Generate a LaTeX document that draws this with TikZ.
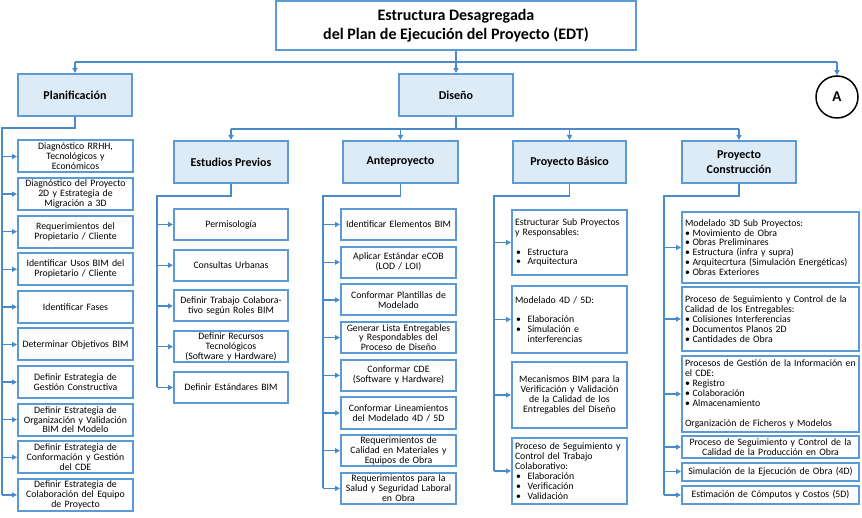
\documentclass[tikz,border=0pt]{standalone}
\usepackage{fontspec}
\setmainfont{Carlito}
\usepackage{xcolor}
\usepackage{tikz}
\usetikzlibrary{arrows.meta,calc}
\definecolor{edtblue}{RGB}{91,155,213}
\definecolor{edtfill}{RGB}{221,235,247}
\definecolor{edtline}{RGB}{74,138,203}
\newcommand{\bulA}{\makebox[12.5pt][l]{\hspace{1pt}\textbullet}}
\newcommand{\bulB}{\makebox[7.5pt][l]{\textbullet}}
\tikzset{
  >={Triangle[length=5pt,width=5pt]},
  every picture/.style={line join=miter},
  hdr/.style={draw=edtblue, line width=2pt, fill=edtfill, align=center,
    font=\fontsize{12}{15}\selectfont\bfseries,
    minimum width=114pt, minimum height=42pt, inner sep=2pt},
  leaf/.style={draw=edtblue, line width=2pt, fill=white, inner xsep=3pt,
    inner ysep=1pt, font=\fontsize{9.8}{9.9}\selectfont},
  link/.style={draw=edtline, line width=1.3pt},
  arr/.style={link, ->},
}

\begin{document}
\begin{tikzpicture}[x=1pt,y=-1pt]
    \useasboundingbox (0,0) rectangle (862,518);
    % nivel 0
    \node[draw=edtblue, line width=2pt, minimum width=360pt, minimum height=49pt,
      align=center, font=\fontsize{16}{19}\selectfont\bfseries] (title) at (456,25.5)
      {Estructura Desagregada\\del Plan de Ejecución del Proyecto (EDT)};
    % nivel 1
    \node[hdr] (plan) at (75,95) {Planificación};
    \node[hdr] (dis) at (456,95) {Diseño};
    \node[draw, circle, line width=1.5pt, minimum size=42pt,
      font=\fontsize{15}{17}\selectfont\bfseries] (acirc) at (837,97) {A};
    \coordinate (topbus) at (0,62);
    \draw[link] (title.south) -- (title.south |- topbus);
    \draw[link] (plan.north |- topbus) -- (acirc.north |- topbus);
    \foreach \n in {plan,dis,acirc}
      \draw[arr] (\n.north |- topbus) -- (\n.north);
    % nivel 2 (diseño)
    \node[hdr] (ep) at (231,162) {Estudios Previos};
    \node[hdr, minimum width=115pt] (ap) at (400.5,162) {Anteproyecto};
    \node[hdr, minimum width=113pt] (pb) at (569.5,162) {Proyecto Básico};
    \node[hdr] (pc) at (739,162) {Proyecto\\Construcción};
    \coordinate (dbus) at (0,129);
    \draw[link] (dis.south) -- (dis.south |- dbus);
    \draw[link] (ep.north |- dbus) -- (pc.north |- dbus);
    \foreach \n in {ep,ap,pb,pc}
      \draw[arr] (\n.north |- dbus) -- (\n.north);
    % planificación
    \foreach \i/\t in {1/{Diagnóstico RRHH,\\Tecnológicos y\\Económicos},
      2/{Diagnóstico del Proyecto\\2D y Estrategia de\\Migración a 3D},
      3/{Requerimientos del\\Propietario / Cliente},
      4/{Identificar Usos BIM del\\Propietario / Cliente},
      5/{Identificar Fases},
      6/{Determinar Objetivos BIM},
      7/{Definir Estrategia de\\Gestión Constructiva},
      8/{Definir Estrategia de\\Organización y Validación\\BIM del Modelo},
      9/{Definir Estrategia de\\Conformación y Gestión\\del CDE},
      10/{Definir Estrategia de\\Colaboración del Equipo\\de Proyecto}}
      \node[leaf, text width=109pt, minimum height=32pt, align=center] (pl\i)
        at (75.5,{156.5+37.6*(\i-1)}) {\t};
    \coordinate (plbus) at (2,128);
    \draw[link] (plan.south) |- (plbus) -- (plbus |- pl10.west);
    \foreach \i in {1,...,10}
      \draw[arr] (plbus |- pl\i.west) -- (pl\i.west);
    % estudios previos
    \foreach \i/\t in {1/{Permisología}, 2/{Consultas Urbanas},
      3/{Definir Trabajo Colabora-\\tivo según Roles BIM},
      4/{Definir Recursos\\Tecnológicos\\(Software y Hardware)},
      5/{Definir Estándares BIM}}
      \node[leaf, text width=108pt, minimum height=31pt, align=center] (ep\i)
        at (231,{224.5+40.75*(\i-1)}) {\t};
    \coordinate (epbus) at (157,196);
    \draw[link] (ep.south) |- (epbus) -- (epbus |- ep5.west);
    \foreach \i in {1,...,5}
      \draw[arr] (epbus |- ep\i.west) -- (ep\i.west);
    % anteproyecto
    \foreach \i/\t in {1/{Identificar Elementos BIM},
      2/{Aplicar Estándar eCOB\\(LOD / LOI)},
      3/{Conformar Plantillas de\\Modelado},
      4/{Generar Lista Entregables\\y Respondables del\\Proceso de Diseño},
      5/{Conformar CDE\\(Software y Hardware)},
      6/{Conformar Lineamientos\\del Modelado 4D / 5D},
      7/{Requerimientos de\\Calidad en Materiales y\\Equipos de Obra},
      8/{Requerimientos para la\\Salud y Seguridad Laboral\\en Obra}}
      \node[leaf, text width=109pt, minimum height=31pt, align=center] (ap\i)
        at (398.5,{224.5+37.7*(\i-1)}) {\t};
    \coordinate (apbus) at (323,196);
    \draw[link] (ap.south) |- (apbus) -- (apbus |- ap8.west);
    \foreach \i in {1,...,8}
      \draw[arr] (apbus |- ap\i.west) -- (ap\i.west);
    % proyecto básico
    \node[leaf, text width=109pt, minimum height=65pt, align=left] (pb1) at (569.5,242.5)
      {Estructurar Sub Proyectos\\y Responsables:\\[9.9pt]\bulA Estructura\\\bulA Arquitectura};
    \node[leaf, text width=109pt, minimum height=67pt, align=left] (pb2) at (569.5,319.5)
      {Modelado 4D / 5D:\\[9.9pt]\bulA Elaboración\\\bulA Simulación e\\\hspace*{12.5pt}interferencias};
    \node[leaf, text width=109pt, minimum height=66pt, align=center] (pb3) at (569.5,395)
      {Mecanismos BIM para la\\Verificación y Validación\\de la Calidad de los\\Entregables del Diseño};
    \node[leaf, text width=109pt, minimum height=66pt, align=left] (pb4) at (569.5,471)
      {Proceso de Seguimiento y\\Control del Trabajo\\Colaborativo:\\\bulA Elaboración\\\bulA Verificación\\\bulA Validación};
    \coordinate (pbbus) at (494,196);
    \draw[link] (pb.south) |- (pbbus) -- (pbbus |- pb4.west);
    \foreach \i in {1,...,4}
      \draw[arr] (pbbus |- pb\i.west) -- (pb\i.west);
    % proyecto construcción
    \node[leaf, text width=171pt, minimum height=71pt, align=left] (pc1) at (770.5,247.5)
      {Modelado 3D Sub Proyectos:\\\bulB Movimiento de Obra\\\bulB Obras Preliminares\\\bulB Estructura (infra y supra)\\\bulB Arquitecrtura (Simulación Energéticas)\\\bulB Obras Exteriores};
    \node[leaf, text width=171pt, minimum height=64pt, align=left] (pc2) at (770.5,319)
      {Proceso de Seguimiento y Control de la\\Calidad de los Entregables:\\\bulB Colisiones Interferencias\\\bulB Documentos Planos 2D\\\bulB Cantidades de Obra};
    \node[leaf, text width=171pt, minimum height=76pt, align=left] (pc3) at (770.5,394)
      {Procesos de Gestión de la Información en\\el CDE:\\\bulB Registro\\\bulB Colaboración\\\bulB Almacenamiento\\[9.9pt]Organización de Ficheros y Modelos};
    \node[leaf, text width=171pt, minimum height=22pt, align=center] (pc4) at (770.5,447)
      {Proceso de Seguimiento y Control de la\\Calidad de la Producción en Obra};
    \node[leaf, text width=171pt, minimum height=18pt, align=center] (pc5) at (770.5,471.5)
      {Simulación de la Ejecución de Obra (4D)};
    \node[leaf, text width=171pt, minimum height=18pt, align=center] (pc6) at (770.5,495)
      {Estimación de Cómputos y Costos (5D)};
    \coordinate (pcbus) at (664,196);
    \draw[link] (pc.south) |- (pcbus) -- (pcbus |- pc6.west);
    \foreach \i in {1,...,6}
      \draw[arr] (pcbus |- pc\i.west) -- (pc\i.west);
\end{tikzpicture}
\end{document}
